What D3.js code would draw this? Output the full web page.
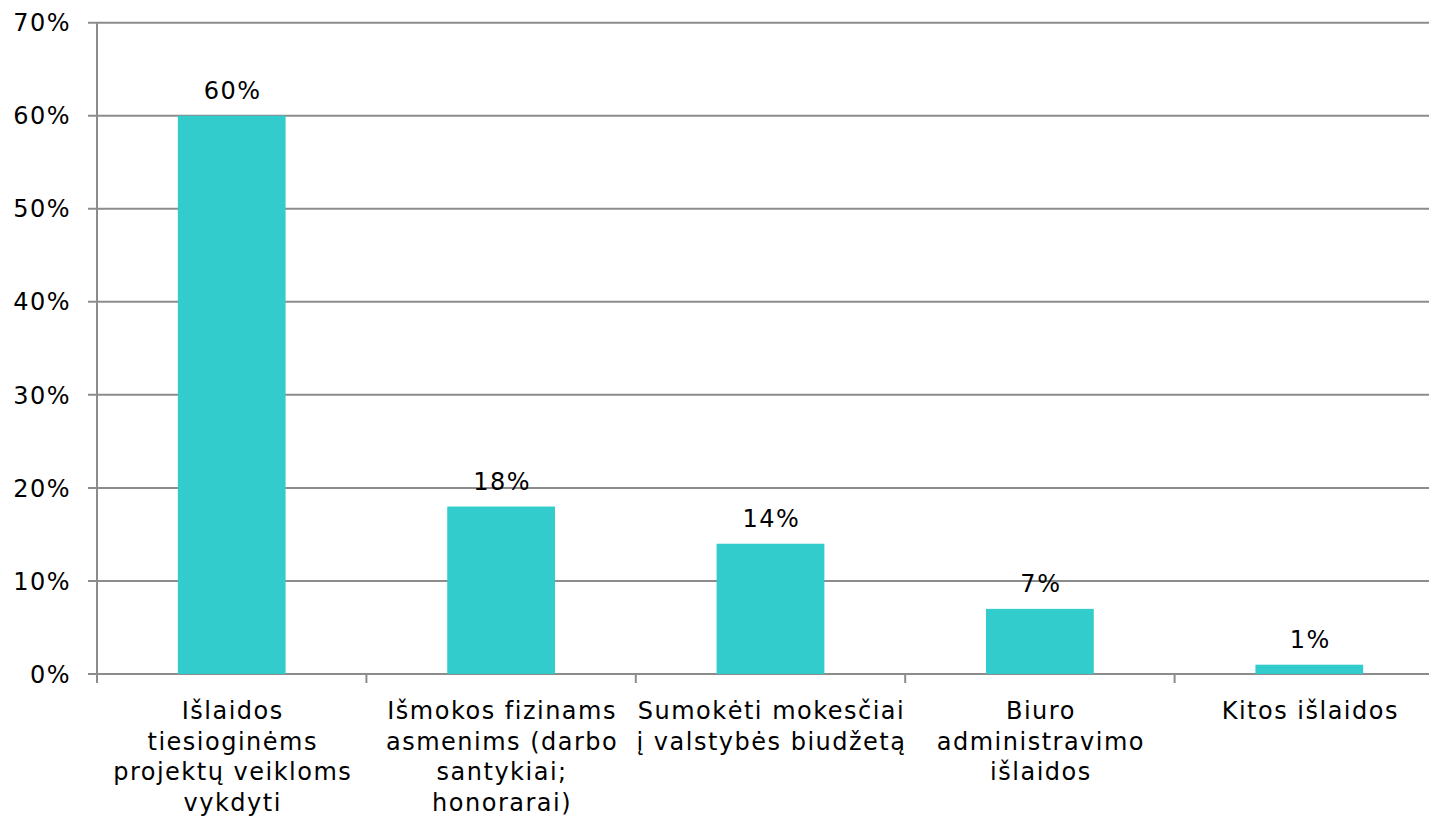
<!DOCTYPE html>
<html>
<head>
<meta charset="utf-8">
<script src="https://cdn.jsdelivr.net/npm/d3@7"></script>
<style>
  body { margin: 0; background: #fff; overflow: hidden; }
  text { font-family: "DejaVu Sans", Verdana, sans-serif; fill: #000; letter-spacing: 1.5px; }
</style>
</head>
<body>
<svg width="1429" height="821"></svg>
<script>
const categories = [
  ["Išlaidos", "tiesioginėms", "projektų veikloms", "vykdyti"],
  ["Išmokos fizinams", "asmenims (darbo", "santykiai;", "honorarai)"],
  ["Sumokėti mokesčiai", "į valstybės biudžetą"],
  ["Biuro", "administravimo", "išlaidos"],
  ["Kitos išlaidos"]
];
const values = [60, 18, 14, 7, 1];
const yTicks = [0, 10, 20, 30, 40, 50, 60, 70];

const svg = d3.select("svg");
const fontSize = 24;
const gridColor = "#8c8c8c";

const x = d3.scaleBand()
  .domain(d3.range(values.length))
  .range([97, 1444])
  .paddingInner(0.6)
  .paddingOuter(0.3);

const y = d3.scaleLinear().domain([0, 70]).range([674, 22.7]);

// gridlines
svg.append("g")
  .selectAll("line")
  .data(yTicks)
  .enter()
  .append("line")
  .attr("x1", 88)
  .attr("x2", 1444)
  .attr("y1", (d) => y(d))
  .attr("y2", (d) => y(d))
  .attr("stroke", gridColor)
  .attr("stroke-width", 2);

// left axis line
svg.append("line")
  .attr("x1", 97).attr("x2", 97)
  .attr("y1", y(70)).attr("y2", y(0) + 9)
  .attr("stroke", gridColor)
  .attr("stroke-width", 2);

// category boundary ticks
svg.append("g")
  .selectAll("line")
  .data(d3.range(1, values.length))
  .enter()
  .append("line")
  .attr("x1", (d) => 97 + d * (1444 - 97) / values.length)
  .attr("x2", (d) => 97 + d * (1444 - 97) / values.length)
  .attr("y1", y(0))
  .attr("y2", y(0) + 9)
  .attr("stroke", gridColor)
  .attr("stroke-width", 2);

// y tick labels
svg.append("g")
  .selectAll("text")
  .data(yTicks)
  .enter()
  .append("text")
  .attr("x", 71)
  .attr("y", (d) => y(d))
  .attr("dy", "0.36em")
  .attr("text-anchor", "end")
  .attr("font-size", fontSize)
  .text((d) => d + "%");

// bars
svg.append("g")
  .selectAll("rect")
  .data(values)
  .enter()
  .append("rect")
  .attr("x", (d, i) => x(i))
  .attr("width", x.bandwidth())
  .attr("y", (d) => y(d))
  .attr("height", (d) => y(0) - y(d))
  .attr("fill", "#33cccc");

// value labels
svg.append("g")
  .selectAll("text")
  .data(values)
  .enter()
  .append("text")
  .attr("x", (d, i) => x(i) + x.bandwidth() / 2 + 1)
  .attr("y", (d) => y(d) - 17)
  .attr("text-anchor", "middle")
  .attr("font-size", fontSize)
  .text((d) => d + "%");

// category labels
const labels = svg.append("g")
  .selectAll("text")
  .data(categories)
  .enter()
  .append("text")
  .attr("text-anchor", "middle")
  .attr("font-size", fontSize)
  .attr("transform", (d, i) => `translate(${x(i) + x.bandwidth() / 2 + 1},719)`);

labels.selectAll("tspan")
  .data((d) => d)
  .enter()
  .append("tspan")
  .attr("x", 0)
  .attr("y", (d, j) => j * 30.7)
  .text((d) => d);
</script>
</body>
</html>
